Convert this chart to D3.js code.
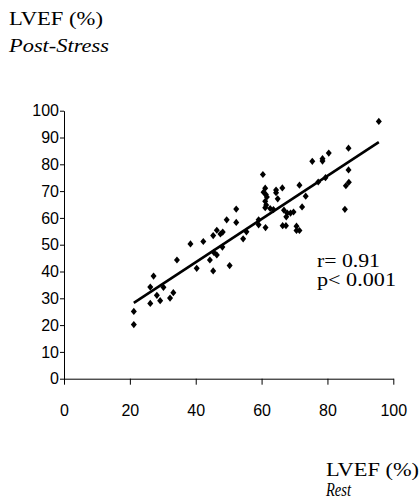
<!DOCTYPE html>
<html lang="en">
<head>
  <meta charset="UTF-8" />
  <title>LVEF rest vs post-stress</title>
  <script src="https://d3js.org/d3.v7.min.js"></script>
  <style>
    html, body {
      margin: 0;
      padding: 0;
      background: #fff;
    }
    svg { display: block; }
    .tick text { font-family: "Liberation Sans Narrow", "Liberation Sans", Arial, sans-serif; font-size: 16px; fill: #000; }
  </style>
</head>
<body>
  <svg id="chart" width="420" height="501"></svg>

  <script>
    // LVEF at rest (x) and post-stress (y)
    const restLVEF = [
      21.2, 21.2, 26.2, 27.2, 26.2, 28.2, 29.2, 30.2, 32.2, 33.2,
      34.3, 38.4, 40.3, 42.3, 44.3, 45.3, 45.3, 45.5, 46.4, 46.4,
      47.5, 48.2, 48.1, 50.3, 54.4, 55.4, 49.4, 52.3, 52.3, 59.1,
      59.1, 61.2, 60.4, 61.1, 60.6, 61.3, 61.6, 64.4, 64.4, 66.3,
      64.9, 61.1, 61.4, 61.1, 62.6, 63.6, 66.8, 67.8, 68.8, 69.7,
      67.5, 72.3, 71.5, 73.4, 66.4, 67.4, 70.6, 70.6, 71.5, 75.4,
      78.5, 78.5, 80.4, 77.2, 79.4, 86.4, 86.4, 86.5, 85.6, 85.3,
      95.6
    ];
    const stressLVEF = [
      25.1, 20.2, 34.2, 38.3, 28.1, 31.1, 29.1, 34.1, 30.1, 32.1,
      44.3, 50.3, 41.2, 51.2, 44.3, 40.2, 53.4, 47.1, 46.2, 55.4,
      54.0, 54.7, 49.1, 42.2, 52.2, 54.8, 59.3, 63.3, 58.3, 59.3,
      57.4, 56.4, 76.2, 71.1, 69.6, 68.7, 67.8, 70.4, 69.4, 71.2,
      67.1, 66.2, 64.8, 63.8, 63.5, 63.1, 62.9, 61.8, 61.8, 62.2,
      60.4, 64.1, 72.2, 68.1, 57.1, 57.1, 56.9, 55.3, 55.3, 81.1,
      82.1, 81.2, 84.2, 73.4, 75.0, 86.0, 77.9, 73.3, 72.0, 63.2,
      96.0
    ];
    // regression line end points (rest, post-stress)
    const fitLine = [[21.2, 28.3], [95.6, 88.3]];
    const xTicks = [0, 20, 40, 60, 80, 100];
    const yTicks = [0, 10, 20, 30, 40, 50, 60, 70, 80, 90, 100];
    const statsText = ["r= 0.91", "p< 0.001"];

    const points = restLVEF.map((r, i) => ({ rest: r, stress: stressLVEF[i] }));

    const svg = d3.select("#chart");
    const serif = "'Liberation Serif', 'Times New Roman', 'DejaVu Serif', serif";

    const x = d3.scaleLinear().domain([0, 100]).range([64, 393.3]);
    const y = d3.scaleLinear().domain([0, 100]).range([378.7, 110.7]);

    // axes
    svg.append("g")
      .attr("transform", `translate(0,${y(0)})`)
      .call(d3.axisBottom(x).tickValues(xTicks).tickSize(6).tickPadding(20).tickSizeOuter(0))
      .call(g => g.selectAll("line, path").attr("stroke", "#000"));

    svg.append("g")
      .attr("transform", `translate(${x(0)},0)`)
      .call(d3.axisLeft(y).tickValues(yTicks).tickSize(4).tickPadding(1).tickSizeOuter(0))
      .call(g => g.selectAll("line, path").attr("stroke", "#000"));

    // regression line
    svg.append("line")
      .attr("x1", x(fitLine[0][0]))
      .attr("y1", y(fitLine[0][1]))
      .attr("x2", x(fitLine[1][0]))
      .attr("y2", y(fitLine[1][1]))
      .attr("stroke", "#000")
      .attr("stroke-width", 2.6);

    // diamond markers
    const diamond = "M0,-3.6L3,0L0,3.6L-3,0Z";
    svg.append("g")
      .selectAll("path")
      .data(points)
      .join("path")
      .attr("d", diamond)
      .attr("transform", d => `translate(${x(d.rest)},${y(d.stress)})`)
      .attr("fill", "#000");

    function label(txt, px, py, width, italic) {
      svg.append("text")
        .attr("x", px)
        .attr("y", py)
        .attr("font-family", serif)
        .attr("font-size", 18)
        .attr("font-style", italic ? "italic" : "normal")
        .attr("fill", "#000")
        .attr("textLength", width)
        .attr("lengthAdjust", "spacingAndGlyphs")
        .text(txt);
    }

    // stats
    label(statsText[0], 317, 267, 63, false);
    label(statsText[1], 317, 285.5, 79, false);

    // axis titles
    label("LVEF (%)", 9, 25, 94, false);
    label("Post-Stress", 9, 52, 100, true);
    label("LVEF (%)", 326, 476, 93, false);
    label("Rest", 326, 496, 25, true);
  </script>
</body>
</html>
